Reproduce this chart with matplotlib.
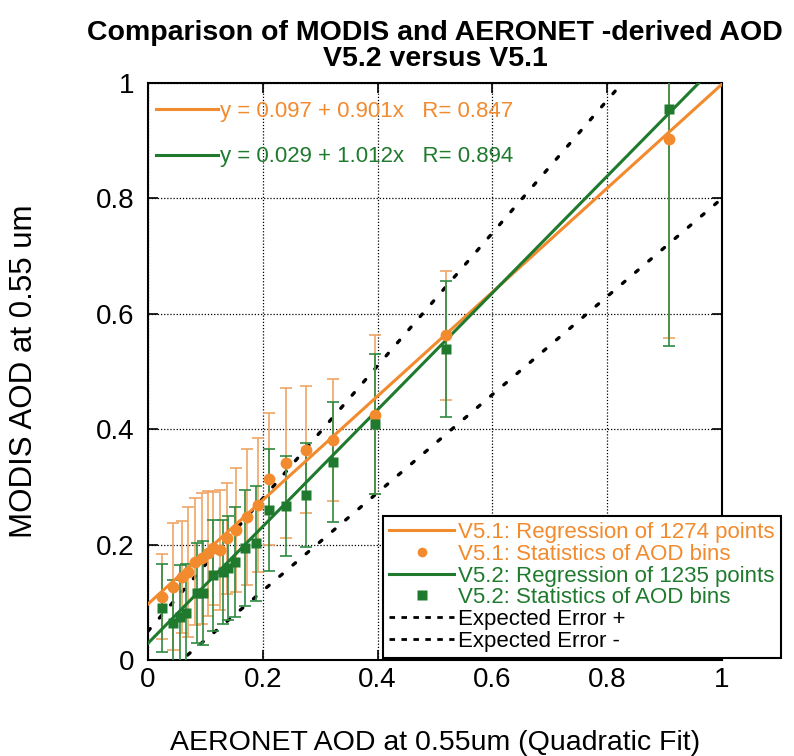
import numpy as np
import matplotlib
matplotlib.use('Agg')
import matplotlib.pyplot as plt
from matplotlib.lines import Line2D

plt.rcParams['font.family'] = ['Liberation Sans', 'DejaVu Sans']

ORANGE = '#f28a2e'
ORANGE_BAR = '#f0a565'
GREEN = '#1f7a2e'
GREEN_BAR = '#2f8a40'

# V5.1 bin statistics (AERONET AOD, MODIS AOD mean, std)
v51_x = [0.025, 0.044, 0.059, 0.069, 0.082, 0.094, 0.105, 0.114, 0.125, 0.137,
         0.154, 0.172, 0.192, 0.210, 0.240, 0.275, 0.322, 0.395, 0.520, 0.908]
v51_y = [0.110, 0.127, 0.144, 0.153, 0.170, 0.176, 0.185, 0.194, 0.191, 0.211,
         0.225, 0.248, 0.269, 0.314, 0.341, 0.364, 0.381, 0.425, 0.563, 0.903]
v51_err = [0.074, 0.110, 0.097, 0.113, 0.110, 0.113, 0.108, 0.098, 0.104, 0.096,
           0.108, 0.118, 0.116, 0.114, 0.130, 0.110, 0.106, 0.138, 0.112, 0.345]

# V5.2 bin statistics
v52_x = [0.025, 0.044, 0.056, 0.067, 0.085, 0.096, 0.114, 0.131, 0.140, 0.152,
         0.169, 0.189, 0.210, 0.240, 0.275, 0.322, 0.395, 0.520, 0.908]
v52_y = [0.090, 0.064, 0.075, 0.081, 0.116, 0.116, 0.147, 0.153, 0.159, 0.170,
         0.194, 0.202, 0.260, 0.267, 0.286, 0.343, 0.409, 0.539, 0.955]
v52_err = [0.076, 0.075, 0.090, 0.085, 0.087, 0.090, 0.096, 0.090, 0.090, 0.095,
           0.100, 0.100, 0.106, 0.087, 0.090, 0.104, 0.122, 0.118, 0.411]

# regression fits: intercept, slope, R, number of points
v51_fit = (0.097, 0.901, 0.847, 1274)
v52_fit = (0.029, 1.012, 0.894, 1235)

# expected error envelope: +/-(0.05 + 0.15*tau)
ee_abs = 0.05
ee_rel = 0.15

fig = plt.figure(figsize=(7.94, 7.56), dpi=100)
ax = fig.add_axes([0.1864, 0.127, 0.7229, 0.7632])

xx = np.linspace(0, 1, 200)
ax.plot(xx, xx + ee_abs + ee_rel * xx, color='k', lw=2.4,
        linestyle=(0, (1, 4.2)), dash_capstyle='round', zorder=2)
ax.plot(xx, xx - ee_abs - ee_rel * xx, color='k', lw=2.4,
        linestyle=(0, (1, 4.2)), dash_capstyle='round', zorder=2)

ax.errorbar(v51_x, v51_y, yerr=v51_err, fmt='none', ecolor=ORANGE_BAR,
            elinewidth=1.2, capsize=4, capthick=1.2, zorder=3)
ax.errorbar(v52_x, v52_y, yerr=v52_err, fmt='none', ecolor=GREEN_BAR,
            elinewidth=1.2, capsize=4, capthick=1.2, zorder=3)

ax.plot(xx, v51_fit[0] + v51_fit[1] * xx, color=ORANGE, lw=2.2, zorder=4)
ax.plot(xx, v52_fit[0] + v52_fit[1] * xx, color=GREEN, lw=2.2, zorder=4)

ax.plot(v51_x, v51_y, 'o', color=ORANGE, ms=8.5, mec='none', zorder=5)
ax.plot(v52_x, v52_y, 's', color=GREEN, ms=7.5, mec='none', zorder=5)

ax.set_xlim(0, 1)
ax.set_ylim(0, 1)
ticks = [0, 0.2, 0.4, 0.6, 0.8, 1]
tick_labels = ['0', '0.2', '0.4', '0.6', '0.8', '1']
ax.set_xticks(ticks)
ax.set_xticklabels(tick_labels)
ax.set_yticks(ticks)
ax.set_yticklabels(tick_labels)
ax.tick_params(direction='in', length=7, width=1.2, labelsize=20,
               top=True, right=True)
ax.tick_params(axis='y', pad=10)
ax.tick_params(axis='x', pad=5)
ax.grid(True, color='k', linestyle=(0, (1, 1.5)), lw=0.9)
for sp in ax.spines.values():
    sp.set_linewidth(1.5)

ax.set_xlabel('AERONET AOD at 0.55um (Quadratic Fit)', fontsize=20.5, labelpad=27)
ax.set_ylabel('MODIS AOD at 0.55 um', fontsize=22.5, labelpad=41)
ax.set_title('Comparison of MODIS and AERONET -derived AOD\nV5.2 versus V5.1',
             fontsize=20.5, fontweight='bold', linespacing=1.02, pad=12)

# equations in the upper left
eq_handles = [Line2D([], [], color=ORANGE, lw=2.2), Line2D([], [], color=GREEN, lw=2.2)]
eq_labels = ['y = %.3f + %.3fx   R= %.3f' % v51_fit[:3],
             'y = %.3f + %.3fx   R= %.3f' % v52_fit[:3]]
leg1 = ax.legend(eq_handles, eq_labels, loc='upper left', bbox_to_anchor=(-0.008, 0.99),
                 frameon=False, fontsize=16, handlelength=2.8, handletextpad=0.1,
                 labelspacing=1.1, borderaxespad=0.05, borderpad=0.5)
for t, c in zip(leg1.get_texts(), [ORANGE, GREEN]):
    t.set_color(c)
ax.add_artist(leg1)

handles = [Line2D([], [], color=ORANGE, lw=2.2),
           Line2D([], [], color=ORANGE, marker='o', ls='none', ms=7, mec='none'),
           Line2D([], [], color=GREEN, lw=2.2),
           Line2D([], [], color=GREEN, marker='s', ls='none', ms=6.5, mec='none'),
           Line2D([], [], color='k', lw=2.0, linestyle=(0, (2, 2.3))),
           Line2D([], [], color='k', lw=2.0, linestyle=(0, (2, 2.3)))]
labels = ['V5.1: Regression of %d points' % v51_fit[3],
          'V5.1: Statistics of AOD bins',
          'V5.2: Regression of %d points' % v52_fit[3],
          'V5.2: Statistics of AOD bins',
          'Expected Error +',
          'Expected Error -']
leg2 = ax.legend(handles, labels, loc='lower left', bbox_to_anchor=(0.409, 0.003),
                 fontsize=16, handlelength=2.9, handletextpad=0.2, labelspacing=0.03,
                 borderpad=0.3, borderaxespad=0, fancybox=False, framealpha=1,
                 edgecolor='k')
leg2.get_frame().set_linewidth(1.5)
leg2.set_zorder(10)
for t, c in zip(leg2.get_texts(), [ORANGE, ORANGE, GREEN, GREEN, 'k', 'k']):
    t.set_color(c)

fig.savefig('out.png', dpi=100)
